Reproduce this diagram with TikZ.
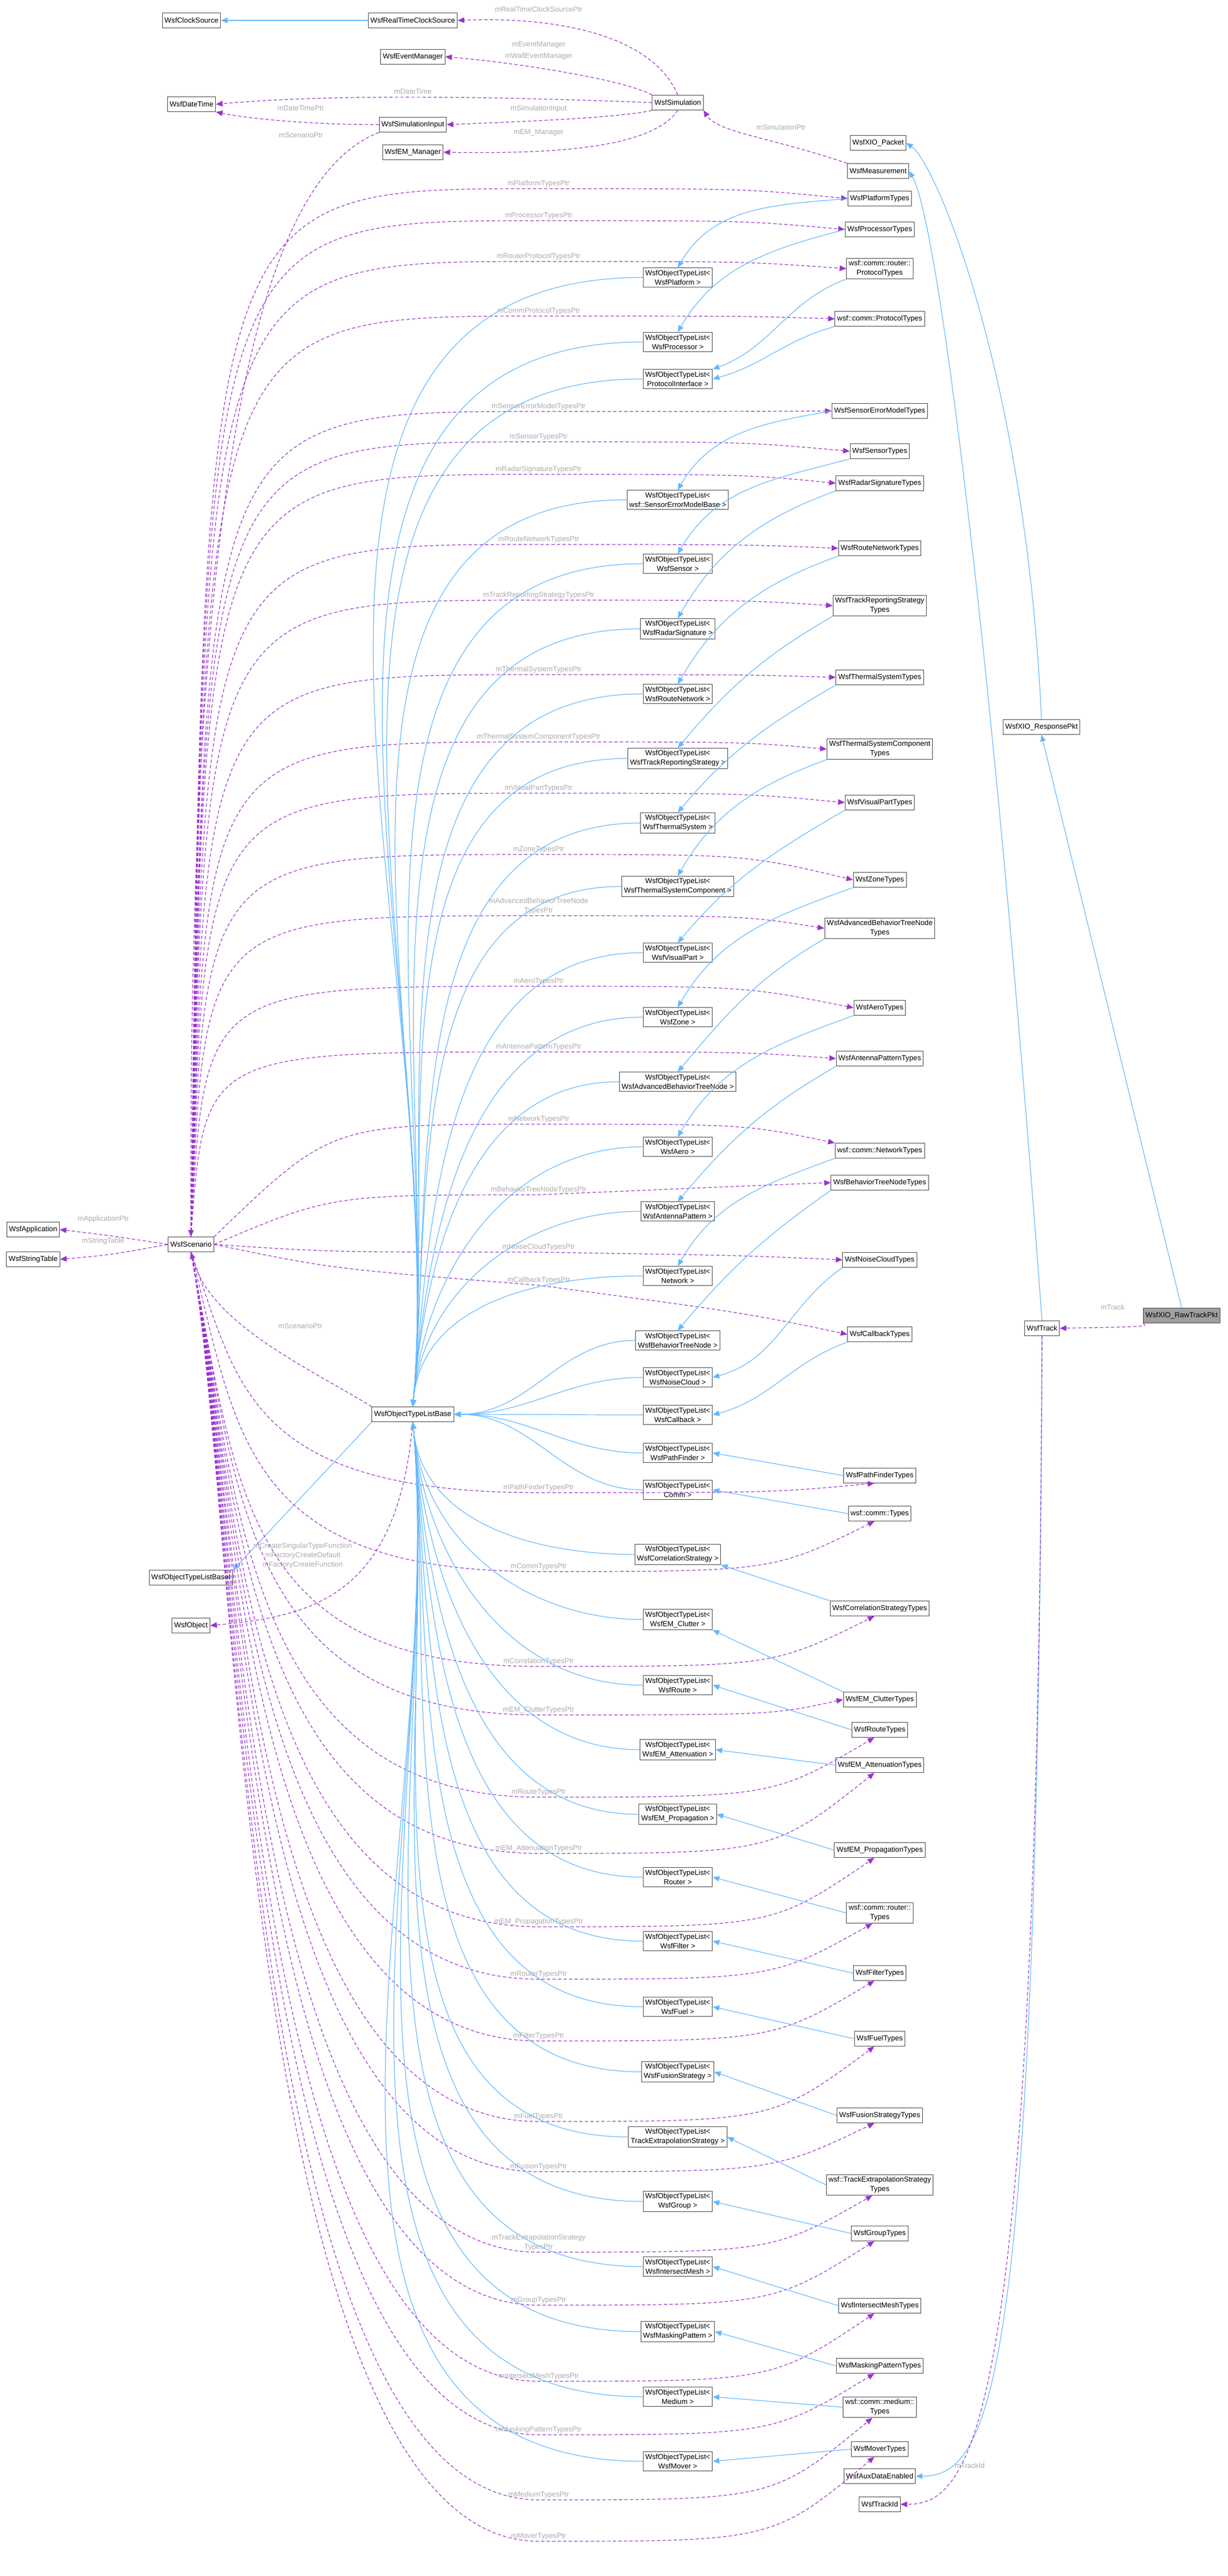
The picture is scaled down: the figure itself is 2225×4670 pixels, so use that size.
\documentclass[tikz,border=0pt]{standalone}
\usepackage{fontspec}
\setmainfont{Liberation Sans}
\usetikzlibrary{positioning}
\usetikzlibrary{arrows.meta}

\definecolor{inhblue}{HTML}{63B8FF}
\definecolor{refpurple}{HTML}{9A32CD}

\tikzset{
  box/.style={draw=gray!55!black, fill=white, line width=0.5pt, inner sep=2pt,
              minimum height=13.5pt, align=center, font=\fontsize{6.6}{8.5}\selectfont},
  inh/.style={draw=inhblue, line width=0.6pt, -{Triangle[length=6pt,width=5pt,fill=inhblue]}},
  ref/.style={draw=refpurple, line width=0.6pt, dash pattern=on 3pt off 2pt,
              -{Triangle[length=6pt,width=5pt,fill=refpurple]}},
  lbl/.style={text=gray!65, inner sep=1pt, align=center, font=\fontsize{6.6}{8.5}\selectfont}
}

\begin{document}
\begin{tikzpicture}[x=0.5pt,y=-0.5pt]

            \useasboundingbox (0,0) rectangle (2225,4670);

            % top block
            \path   (347,37)   node (clk) [box] {WsfClockSource}
                    (748,37)   node (rtc) [box] {WsfRealTimeClockSource}
                    (748,103)  node (evm) [box] {WsfEventManager}
                    (347,189)  node (dt)  [box] {WsfDateTime}
                    (748,226)  node (si)  [box] {WsfSimulationInput}
                    (748,276)  node (emm) [box] {WsfEM\_Manager}
                    (1228,186) node (sim) [box] {WsfSimulation}
                    (1591,259) node (xio) [box] {WsfXIO\_Packet}
                    (1591,310) node (meas) [box] {WsfMeasurement}
                    (1887,1318) node (rsp) [box] {WsfXIO\_ResponsePkt}
                    (2141,2385) node (raw) [box, fill=gray!75] {WsfXIO\_RawTrackPkt}
                    (1888,2408) node (trk) [box] {WsfTrack}
                    (1594,4489) node (aux) [box] {WsfAuxDataEnabled}
                    (1594,4540) node (tid) [box] {WsfTrackId};

            % left block
            \path   (346,2256) node (scn) [box] {WsfScenario}
                    (60,2229)  node (app) [box] {WsfApplication}
                    (60,2283)  node (st)  [box] {WsfStringTable}
                    (748,2564) node (base) [box] {WsfObjectTypeListBase}
                    (346,2860) node (basei) [box] {WsfObjectTypeListBaseI}
                    (346,2947) node (obj) [box] {WsfObject};

            % types
            \path   (1594,360)  node (tPlat) [box] {WsfPlatformTypes}
                    (1594,416)  node (tProc) [box] {WsfProcessorTypes}
                    (1594,487)  node (tRPro) [box] {wsf::comm::router::\\ProtocolTypes}
                    (1594,578)  node (tCPro) [box] {wsf::comm::ProtocolTypes}
                    (1594,745)  node (tSErr) [box] {WsfSensorErrorModelTypes}
                    (1594,818)  node (tSens) [box] {WsfSensorTypes}
                    (1594,876)  node (tRSig) [box] {WsfRadarSignatureTypes}
                    (1594,994)  node (tRNet) [box] {WsfRouteNetworkTypes}
                    (1594,1098) node (tTRep) [box] {WsfTrackReportingStrategy\\Types}
                    (1594,1228) node (tTher) [box] {WsfThermalSystemTypes}
                    (1594,1358) node (tTCmp) [box] {WsfThermalSystemComponent\\Types}
                    (1594,1455) node (tVis)  [box] {WsfVisualPartTypes}
                    (1594,1595) node (tZone) [box] {WsfZoneTypes}
                    (1594,1683) node (tABT)  [box] {WsfAdvancedBehaviorTreeNode\\Types}
                    (1594,1827) node (tAero) [box] {WsfAeroTypes}
                    (1594,1919) node (tAnt)  [box] {WsfAntennaPatternTypes}
                    (1594,2086) node (tNet)  [box] {wsf::comm::NetworkTypes}
                    (1594,2144) node (tBT)   [box] {WsfBehaviorTreeNodeTypes}
                    (1594,2284) node (tNC)   [box] {WsfNoiseCloudTypes}
                    (1594,2419) node (tCB)   [box] {WsfCallbackTypes}
                    (1594,2675) node (tPF)   [box] {WsfPathFinderTypes}
                    (1594,2744) node (tComm) [box] {wsf::comm::Types}
                    (1594,2916) node (tCorr) [box] {WsfCorrelationStrategyTypes}
                    (1594,3081) node (tClut) [box] {WsfEM\_ClutterTypes}
                    (1594,3136) node (tRte)  [box] {WsfRouteTypes}
                    (1594,3200) node (tAtt)  [box] {WsfEM\_AttenuationTypes}
                    (1594,3354) node (tProp) [box] {WsfEM\_PropagationTypes}
                    (1594,3468) node (tRtr)  [box] {wsf::comm::router::\\Types}
                    (1594,3577) node (tFilt) [box] {WsfFilterTypes}
                    (1594,3696) node (tFuel) [box] {WsfFuelTypes}
                    (1594,3835) node (tFus)  [box] {WsfFusionStrategyTypes}
                    (1594,3961) node (tTEx)  [box] {wsf::TrackExtrapolationStrategy\\Types}
                    (1594,4049) node (tGrp)  [box] {WsfGroupTypes}
                    (1594,4180) node (tIM)   [box] {WsfIntersectMeshTypes}
                    (1594,4289) node (tMask) [box] {WsfMaskingPatternTypes}
                    (1594,4364) node (tMed)  [box] {wsf::comm::medium::\\Types}
                    (1594,4440) node (tMov)  [box] {WsfMoverTypes};

            % type lists
            \path   (1228,503)  node (lPlat) [box] {WsfObjectTypeList<\\WsfPlatform >}
                    (1228,620)  node (lProc) [box] {WsfObjectTypeList<\\WsfProcessor >}
                    (1228,687)  node (lPro)  [box] {WsfObjectTypeList<\\ProtocolInterface >}
                    (1228,906)  node (lSErr) [box] {WsfObjectTypeList<\\wsf::SensorErrorModelBase >}
                    (1228,1022) node (lSens) [box] {WsfObjectTypeList<\\WsfSensor >}
                    (1228,1140) node (lRSig) [box] {WsfObjectTypeList<\\WsfRadarSignature >}
                    (1228,1258) node (lRNet) [box] {WsfObjectTypeList<\\WsfRouteNetwork >}
                    (1228,1375) node (lTRep) [box] {WsfObjectTypeList<\\WsfTrackReportingStrategy >}
                    (1228,1492) node (lTher) [box] {WsfObjectTypeList<\\WsfThermalSystem >}
                    (1228,1607) node (lTCmp) [box] {WsfObjectTypeList<\\WsfThermalSystemComponent >}
                    (1228,1727) node (lVis)  [box] {WsfObjectTypeList<\\WsfVisualPart >}
                    (1228,1844) node (lZone) [box] {WsfObjectTypeList<\\WsfZone >}
                    (1228,1961) node (lABT)  [box] {WsfObjectTypeList<\\WsfAdvancedBehaviorTreeNode >}
                    (1228,2079) node (lAero) [box] {WsfObjectTypeList<\\WsfAero >}
                    (1228,2196) node (lAnt)  [box] {WsfObjectTypeList<\\WsfAntennaPattern >}
                    (1228,2313) node (lNet)  [box] {WsfObjectTypeList<\\Network >}
                    (1228,2430) node (lBT)   [box] {WsfObjectTypeList<\\WsfBehaviorTreeNode >}
                    (1228,2497) node (lNC)   [box] {WsfObjectTypeList<\\WsfNoiseCloud >}
                    (1228,2565) node (lCB)   [box] {WsfObjectTypeList<\\WsfCallback >}
                    (1228,2634) node (lPF)   [box] {WsfObjectTypeList<\\WsfPathFinder >}
                    (1228,2701) node (lComm) [box] {WsfObjectTypeList<\\Comm >}
                    (1228,2818) node (lCorr) [box] {WsfObjectTypeList<\\WsfCorrelationStrategy >}
                    (1228,2936) node (lClut) [box] {WsfObjectTypeList<\\WsfEM\_Clutter >}
                    (1228,3055) node (lRte)  [box] {WsfObjectTypeList<\\WsfRoute >}
                    (1228,3172) node (lAtt)  [box] {WsfObjectTypeList<\\WsfEM\_Attenuation >}
                    (1228,3289) node (lProp) [box] {WsfObjectTypeList<\\WsfEM\_Propagation >}
                    (1228,3403) node (lRtr)  [box] {WsfObjectTypeList<\\Router >}
                    (1228,3519) node (lFilt) [box] {WsfObjectTypeList<\\WsfFilter >}
                    (1228,3638) node (lFuel) [box] {WsfObjectTypeList<\\WsfFuel >}
                    (1228,3756) node (lFus)  [box] {WsfObjectTypeList<\\WsfFusionStrategy >}
                    (1228,3874) node (lTEx)  [box] {WsfObjectTypeList<\\TrackExtrapolationStrategy >}
                    (1228,3991) node (lGrp)  [box] {WsfObjectTypeList<\\WsfGroup >}
                    (1228,4109) node (lIM)   [box] {WsfObjectTypeList<\\WsfIntersectMesh >}
                    (1228,4227) node (lMask) [box] {WsfObjectTypeList<\\WsfMaskingPattern >}
                    (1228,4345) node (lMed)  [box] {WsfObjectTypeList<\\Medium >}
                    (1228,4462) node (lMov)  [box] {WsfObjectTypeList<\\WsfMover >};

            % top block edges
            \draw[inh] (rtc) -- (clk);
            \draw[ref] (sim.north) .. controls (1180,60) and (1000,30) .. (rtc.east);
            \draw[ref] (sim.north west) .. controls (1120,140) and (900,110) .. (evm.east);
            \draw[ref] (sim.west) .. controls (900,175) and (600,170) .. (dt.east);
            \draw[ref] (sim.south west) .. controls (1120,215) and (900,222) .. (si.east);
            \draw[ref] (si.west) .. controls (560,226) and (450,215) .. (dt.south east);
            \draw[ref] (sim.south) .. controls (1180,270) and (1000,279) .. (emm.east);
            \draw[ref] (meas.north west) .. controls (1400,250) and (1300,240) .. (sim.south east);
            \draw[ref] (si.south west) .. controls (480,320) and (340,800) .. (scn.north);
            \node[lbl] (lrtc) at (976,17)  {mRealTimeClockSourcePtr};
            \node[lbl] (levm) at (976,81)  {mEventManager};
            \node[lbl] (lwev) at (976,102) {mWallEventManager};
            \node[lbl] (ldt)  at (748,166) {mDateTime};
            \node[lbl] (ldtp) at (545,196) {mDateTimePtr};
            \node[lbl] (lsi)  at (976,197) {mSimulationInput};
            \node[lbl] (lemm) at (976,240) {mEM\_Manager};
            \node[lbl] (lsim) at (1415,231) {mSimulationPtr};
            \node[lbl] (lscp) at (545,245) {mScenarioPtr};

            % track block edges
            \draw[inh] (rsp.north) .. controls (1860,700) and (1700,300) .. (xio.east);
            \draw[inh] (trk.north) .. controls (1800,1200) and (1700,400) .. (meas.east);
            \draw[inh] (raw.north) -- (rsp.south);
            \draw[ref] (raw.south west) .. controls (2080,2405) .. (trk.east);
            \node[lbl] (ltrk) at (2016,2370) {mTrack};
            \draw[inh] (trk.south) .. controls (1880,4300) and (1800,4489) .. (aux.east);
            \draw[ref] (trk.south) .. controls (1880,4420) and (1760,4540) .. (tid.east);
            \node[lbl] (ltid) at (1757,4470) {mTrackId};

            % scenario and base edges
            \draw[ref] (scn.west) .. controls (200,2240) .. (app.east);
            \draw[ref] (scn.west) .. controls (200,2275) .. (st.east);
            \node[lbl] (lapp) at (187,2210) {mApplicationPtr};
            \node[lbl] (lst)  at (187,2250) {mStringTable};
            \draw[ref] (base.north west) .. controls (560,2480) and (380,2400) .. (scn.south);
            \node[lbl] (lbsc) at (544,2404) {mScenarioPtr};
            \draw[inh] (base.south west) -- (basei.north east);
            \draw[ref] (base.south) .. controls (720,2900) and (560,2930) .. (obj.east);
            \node[lbl, anchor=west] (lfn) at (457,2820) {mCreateSingularTypeFunction\\mFactoryCreateDefault\\mFactoryCreateFunction};

            % scenario to types
            \draw[ref] (scn.north) .. controls (370,342) .. (976,342) node[lbl,above]{mPlatformTypesPtr} .. controls (1350,342) .. (tPlat.west);
            \draw[ref] (scn.north) .. controls (370,400) .. (976,400) node[lbl,above]{mProcessorTypesPtr} .. controls (1350,400) .. (tProc.west);
            \draw[ref] (scn.north) .. controls (370,474) .. (976,474) node[lbl,above]{mRouterProtocolTypesPtr} .. controls (1350,474) .. (tRPro.west);
            \draw[ref] (scn.north) .. controls (370,573) .. (976,573) node[lbl,above]{mCommProtocolTypesPtr} .. controls (1350,573) .. (tCPro.west);
            \draw[ref] (scn.north) .. controls (370,746) .. (976,746) node[lbl,above]{mSensorErrorModelTypesPtr} .. controls (1350,746) .. (tSErr.west);
            \draw[ref] (scn.north) .. controls (370,801) .. (976,801) node[lbl,above]{mSensorTypesPtr} .. controls (1350,801) .. (tSens.west);
            \draw[ref] (scn.north) .. controls (370,860) .. (976,860) node[lbl,above]{mRadarSignatureTypesPtr} .. controls (1350,860) .. (tRSig.west);
            \draw[ref] (scn.north) .. controls (370,987) .. (976,987) node[lbl,above]{mRouteNetworkTypesPtr} .. controls (1350,987) .. (tRNet.west);
            \draw[ref] (scn.north) .. controls (370,1088) .. (976,1088) node[lbl,above]{mTrackReportingStrategyTypesPtr} .. controls (1350,1088) .. (tTRep.west);
            \draw[ref] (scn.north) .. controls (370,1223) .. (976,1223) node[lbl,above]{mThermalSystemTypesPtr} .. controls (1350,1223) .. (tTher.west);
            \draw[ref] (scn.north) .. controls (370,1345) .. (976,1345) node[lbl,above]{mThermalSystemComponentTypesPtr} .. controls (1350,1345) .. (tTCmp.west);
            \draw[ref] (scn.north) .. controls (370,1438) .. (976,1438) node[lbl,above]{mVisualPartTypesPtr} .. controls (1350,1438) .. (tVis.west);
            \draw[ref] (scn.north) .. controls (370,1549) .. (976,1549) node[lbl,above]{mZoneTypesPtr} .. controls (1350,1549) .. (tZone.west);
            \draw[ref] (scn.north) .. controls (370,1660) .. (976,1660) node[lbl,above]{mAdvancedBehaviorTreeNode\\TypesPtr} .. controls (1350,1660) .. (tABT.west);
            \draw[ref] (scn.north) .. controls (370,1788) .. (976,1788) node[lbl,above]{mAeroTypesPtr} .. controls (1350,1788) .. (tAero.west);
            \draw[ref] (scn.north) .. controls (370,1907) .. (976,1907) node[lbl,above]{mAntennaPatternTypesPtr} .. controls (1350,1907) .. (tAnt.west);
            \draw[ref] (scn.north east) .. controls (600,2038) .. (976,2038) node[lbl,above]{mNetworkTypesPtr} .. controls (1350,2038) .. (tNet.north west);
            \draw[ref] (scn.east) .. controls (600,2166) .. (976,2166) node[lbl,above]{mBehaviorTreeNodeTypesPtr} .. controls (1350,2150) .. (tBT.west);
            \draw[ref] (scn.east) .. controls (600,2270) .. (976,2270) node[lbl,above]{mNoiseCloudTypesPtr} .. controls (1350,2276) .. (tNC.west);
            \draw[ref] (scn.east) .. controls (600,2300) .. (976,2330) node[lbl,above]{mCallbackTypesPtr} .. controls (1350,2380) .. (tCB.west);
            \draw[ref] (scn.south) .. controls (430,2500) and (440,2706) .. (976,2706) node[lbl,above]{mPathFinderTypesPtr} .. controls (1400,2706) .. (tPF.235);
            \draw[ref] (scn.south) .. controls (430,2600) and (440,2849) .. (976,2849) node[lbl,above]{mCommTypesPtr} .. controls (1400,2849) .. (tComm.235);
            \draw[ref] (scn.south) .. controls (430,2700) and (440,3021) .. (976,3021) node[lbl,above]{mCorrelationTypesPtr} .. controls (1400,3021) .. (tCorr.235);
            \draw[ref] (scn.south) .. controls (430,2700) and (440,3109) .. (976,3109) node[lbl,above]{mEM\_ClutterTypesPtr} .. controls (1400,3109) .. (tClut.west);
            \draw[ref] (scn.south) .. controls (430,2700) and (440,3258) .. (976,3258) node[lbl,above]{mRouteTypesPtr} .. controls (1400,3258) .. (tRte.235);
            \draw[ref] (scn.south) .. controls (430,2700) and (440,3360) .. (976,3360) node[lbl,above]{mEM\_AttenuationTypesPtr} .. controls (1400,3360) .. (tAtt.235);
            \draw[ref] (scn.south) .. controls (430,2700) and (440,3493) .. (976,3493) node[lbl,above]{mEM\_PropagationTypesPtr} .. controls (1400,3493) .. (tProp.235);
            \draw[ref] (scn.south) .. controls (430,2700) and (440,3588) .. (976,3588) node[lbl,above]{mRouterTypesPtr} .. controls (1400,3588) .. (tRtr.235);
            \draw[ref] (scn.south) .. controls (430,2700) and (440,3700) .. (976,3700) node[lbl,above]{mFilterTypesPtr} .. controls (1400,3700) .. (tFilt.235);
            \draw[ref] (scn.south) .. controls (430,2700) and (440,3846) .. (976,3846) node[lbl,above]{mFuelTypesPtr} .. controls (1400,3846) .. (tFuel.235);
            \draw[ref] (scn.south) .. controls (430,2700) and (440,3937) .. (976,3937) node[lbl,above]{mFusionTypesPtr} .. controls (1400,3937) .. (tFus.235);
            \draw[ref] (scn.south) .. controls (430,2700) and (440,4083) .. (976,4083) node[lbl,above]{mTrackExtrapolationStrategy\\TypesPtr} .. controls (1400,4083) .. (tTEx.235);
            \draw[ref] (scn.south) .. controls (430,2700) and (440,4179) .. (976,4179) node[lbl,above]{mGroupTypesPtr} .. controls (1400,4179) .. (tGrp.235);
            \draw[ref] (scn.south) .. controls (430,2700) and (440,4317) .. (976,4317) node[lbl,above]{mIntersectMeshTypesPtr} .. controls (1400,4317) .. (tIM.235);
            \draw[ref] (scn.south) .. controls (430,2700) and (440,4414) .. (976,4414) node[lbl,above]{mMaskingPatternTypesPtr} .. controls (1400,4414) .. (tMask.235);
            \draw[ref] (scn.south) .. controls (430,2700) and (440,4532) .. (976,4532) node[lbl,above]{mMediumTypesPtr} .. controls (1400,4532) .. (tMed.235);
            \draw[ref] (scn.south) .. controls (430,2700) and (440,4607) .. (976,4607) node[lbl,above]{mMoverTypesPtr} .. controls (1400,4607) .. (tMov.235);

            % types to type lists
            \draw[inh] (tPlat.west) to[out=185,in=60] (lPlat.north);
            \draw[inh] (tProc.west) to[out=195,in=60] (lProc.north);
            \draw[inh] (tRPro.south west) to[out=200,in=20] (lPro.north east);
            \draw[inh] (tCPro.south west) to[out=195,in=15] (lPro.east);
            \draw[inh] (tSErr.west) to[out=190,in=60] (lSErr.north);
            \draw[inh] (tSens.south west) to[out=195,in=60] (lSens.north);
            \draw[inh] (tRSig.south west) to[out=200,in=60] (lRSig.north);
            \draw[inh] (tRNet.south west) to[out=200,in=60] (lRNet.north);
            \draw[inh] (tTRep.south west) to[out=210,in=50] (lTRep.north);
            \draw[inh] (tTher.south west) to[out=210,in=50] (lTher.north);
            \draw[inh] (tTCmp.south west) to[out=200,in=60] (lTCmp.north);
            \draw[inh] (tVis.south west) to[out=210,in=50] (lVis.north);
            \draw[inh] (tZone.south west) to[out=200,in=60] (lZone.north);
            \draw[inh] (tABT.south west) to[out=210,in=50] (lABT.north);
            \draw[inh] (tAero.south west) to[out=200,in=60] (lAero.north);
            \draw[inh] (tAnt.south west) to[out=210,in=50] (lAnt.north);
            \draw[inh] (tNet.south west) to[out=200,in=60] (lNet.north);
            \draw[inh] (tBT.south west) to[out=215,in=50] (lBT.north);
            \draw[inh] (tNC.south west) to[out=215,in=15] (lNC.east);
            \draw[inh] (tCB.south west) to[out=200,in=15] (lCB.east);
            \draw[inh] (tPF.west) -- (lPF.east);
            \draw[inh] (tComm.west) -- (lComm.east);
            \draw[inh] (tCorr.north west) -- (lCorr.south east);
            \draw[inh] (tClut.north west) -- (lClut.south east);
            \draw[inh] (tRte.west) -- (lRte.east);
            \draw[inh] (tAtt.west) -- (lAtt.east);
            \draw[inh] (tProp.west) -- (lProp.east);
            \draw[inh] (tRtr.west) -- (lRtr.east);
            \draw[inh] (tFilt.west) -- (lFilt.east);
            \draw[inh] (tFuel.west) -- (lFuel.east);
            \draw[inh] (tFus.west) -- (lFus.east);
            \draw[inh] (tTEx.west) -- (lTEx.east);
            \draw[inh] (tGrp.west) -- (lGrp.east);
            \draw[inh] (tIM.west) -- (lIM.east);
            \draw[inh] (tMask.west) -- (lMask.east);
            \draw[inh] (tMed.west) -- (lMed.east);
            \draw[inh] (tMov.west) -- (lMov.east);

            % type lists to base
            \foreach \l in {lPlat,lProc,lPro,lSErr,lSens,lRSig,lRNet,lTRep,lTher,lTCmp,lVis,lZone,lABT,lAero,lAnt,lNet}
                \draw[inh] (\l.west) to[out=180,in=85] (base.north);
            \foreach \l in {lBT,lNC,lCB,lPF,lComm}
                \draw[inh] (\l.west) to[out=180,in=0] (base.east);
            \foreach \l in {lCorr,lClut,lRte,lAtt,lProp,lRtr,lFilt,lFuel,lFus,lTEx,lGrp,lIM,lMask,lMed,lMov}
                \draw[inh] (\l.west) to[out=180,in=-85] (base.south);

        \end{tikzpicture}
\end{document}
